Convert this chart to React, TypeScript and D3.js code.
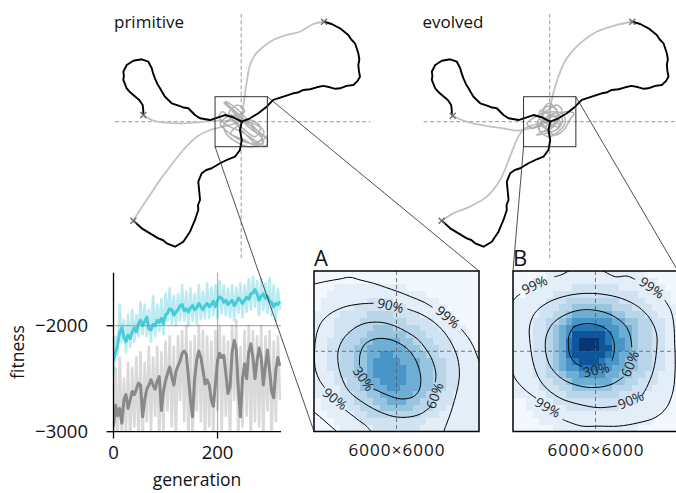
import React from 'react';
import * as d3 from 'd3';

const FONT = "'Open Sans', 'DejaVu Sans', sans-serif";

// ---------- fitness curves (sampled every 4th generation) ----------
const generations = d3.range(0, 321, 4);

const evolvedMean = [
  -2330, -2250, -2180, -2060, -2020, -2110, -2150, -2090, -2120, -2060,
  -2020, -2060, -1980, -1950, -2000, -1960, -1920, -2030, -2040, -1990,
  -2000, -1950, -1970, -1930, -1980, -1900, -1880, -1840, -1850, -1900,
  -1870, -1850, -1810, -1800, -1860, -1840, -1870, -1830, -1810, -1850,
  -1830, -1790, -1820, -1850, -1810, -1790, -1820, -1800, -1770, -1820,
  -1760, -1730, -1740, -1780, -1760, -1800, -1780, -1760, -1810, -1780,
  -1740, -1760, -1790, -1760, -1730, -1750, -1700, -1690, -1660, -1700,
  -1760, -1720, -1700, -1740, -1720, -1770, -1780, -1820, -1790, -1800,
  -1770,
];

const evolvedRaw = [
  -2450, -2100, -2280, -1800, -2150, -1950, -2250, -1900, -2200, -1850,
  -2150, -1900, -2100, -1780, -2080, -1800, -2100, -1850, -2150, -1720,
  -2100, -1800, -2050, -1750, -2080, -1700, -1950, -1650, -1980, -1720,
  -2000, -1700, -1950, -1620, -1950, -1680, -2000, -1650, -1950, -1700,
  -1980, -1620, -1940, -1680, -1930, -1600, -1930, -1640, -1900, -1620,
  -1930, -1580, -1880, -1620, -1900, -1650, -1920, -1620, -1950, -1640,
  -1880, -1600, -1920, -1620, -1870, -1560, -1850, -1540, -1820, -1580,
  -1900, -1560, -1850, -1600, -1880, -1550, -1900, -1620, -1950, -1650,
  -1850,
];

const primitiveMean = [
  -2950, -2750, -2850, -2780, -2920, -2700, -2650, -2780, -2700, -2620,
  -2650, -2600, -2540, -2560, -2860, -2700, -2600, -2560, -2510, -2560,
  -2600, -2520, -2480, -2800, -2620, -2520, -2450, -2390, -2480, -2560,
  -2430, -2380, -2330, -2260, -2240, -2270, -2480, -2700, -2860, -2500,
  -2320, -2240, -2300, -2420, -2550, -2510, -2560, -2700, -2760, -2550,
  -2330, -2260, -2300, -2280, -2450, -2640, -2580, -2250, -2140, -2220,
  -2600, -2860, -2500, -2360, -2500, -2250, -2170, -2300, -2500, -2330,
  -2210, -2300, -2560, -2380, -2230, -2420, -2620, -2680, -2420, -2300,
  -2380,
];

const primitiveRaw = [
  -3100, -2400, -3100, -2300, -3100, -2500, -3000, -2350, -3100, -2400,
  -2950, -2300, -3100, -2250, -3100, -2350, -2900, -2200, -3000, -2300,
  -2850, -2200, -3100, -2250, -3000, -2150, -2800, -2100, -2950, -2200,
  -3100, -2100, -2700, -2050, -2900, -2000, -3100, -2150, -3100, -2100,
  -2800, -2000, -2900, -2050, -3100, -2100, -2950, -2150, -3100, -2050,
  -2800, -2000, -3000, -2100, -2850, -2150, -3100, -2000, -2700, -1950,
  -3100, -2200, -2950, -2050, -2850, -2000, -3100, -2050, -2900, -2100,
  -2950, -2000, -3100, -2100, -2800, -2050, -3100, -2150, -2900, -2100,
  -2700,
];

const fitnessTicks = [-3000, -2000];
const generationTicks = [0, 200];

// ---------- trajectories (thousands of units, origin = start) ----------
type P = [number, number];

const outWest: P[] = [
  [0.06, 0], [-0.91, 0.53], [-1.86, 0.8], [-2.63, 0.53], [-3.58, 0.2], [-4.72, 0.41],
  [-5.3, 0.8], [-6.07, 1.61], [-6.6, 1.7], [-7.02, 1.88], [-7.97, 2.21], [-8.74, 3.0],
  [-9.0, 3.45], [-9.31, 4.01], [-9.6, 4.5], [-9.89, 5.21], [-10.1, 5.8], [-10.26, 6.41],
  [-10.65, 7.2], [-11.41, 7.49], [-12.37, 7.32], [-13.13, 6.81], [-13.52, 6.0],
  [-13.45, 5.5], [-13.52, 5.01], [-13.13, 4.01], [-12.8, 3.6], [-12.37, 3.21],
  [-11.69, 2.61], [-11.3, 2.0], [-11.23, 1.4], [-11.23, 0.8],
];
const outEast: P[] = [
  [0.06, 0], [1.01, 0.41], [1.96, 1.01], [2.92, 1.8], [3.68, 2.61], [4.83, 3.0],
  [5.97, 3.41], [6.5, 3.5], [7.12, 3.81], [7.9, 3.9], [8.66, 4.13], [9.4, 4.3],
  [10.18, 4.13], [10.8, 3.95], [11.33, 4.01], [12.1, 4.3], [12.86, 4.41], [13.35, 4.9],
  [13.62, 5.4], [13.5, 6.1], [13.43, 6.81], [13.55, 7.5], [13.43, 8.21], [13.05, 9.41],
  [12.6, 9.9], [12.28, 10.41], [11.33, 11.21], [10.38, 11.73], [9.5, 12.0],
];
const outSouth: P[] = [
  [0.06, 0], [-0.14, -1.0], [0.06, -2.2], [-0.14, -3.4], [-0.71, -4.2], [-1.48, -4.51],
  [-2.43, -4.99], [-3.38, -5.59], [-4.0, -5.8], [-4.53, -6.19], [-4.92, -7.2], [-4.81, -8.4],
  [-4.72, -9.4], [-4.95, -10.0], [-4.92, -10.6], [-5.3, -11.8], [-5.87, -13.21],
  [-6.64, -14.41], [-7.59, -15.01], [-8.54, -14.6], [-9.0, -14.2], [-9.51, -14.0],
  [-10.46, -13.4], [-11.41, -12.8], [-12.37, -11.88],
];

const primitiveReturns: P[][] = [
  [[-11.23, 0.8], [-10.08, 0.12], [-8.54, -0.12], [-6.64, -0.19], [-4.72, -0.04], [-3.2, 0.12], [-1.66, 0.12], [0.06, 0]],
  [[9.5, 12.0], [8.27, 11.73], [6.74, 10.8], [5.22, 10.41], [3.68, 9.81], [2.53, 9.0], [1.58, 8.01], [1.01, 6.81], [0.7, 5.21], [0.44, 3.41], [0.24, 1.8], [0.06, 0]],
  [[-12.37, -11.88], [-11.61, -10.6], [-10.46, -8.8], [-9.31, -7.0], [-8.17, -5.4], [-6.64, -3.4], [-5.1, -1.8], [-3.58, -1.0], [-2.05, -0.6], [0.06, 0]],
];
const evolvedReturns: P[][] = [
  [[-11.12, 0.72], [-9.52, 0], [-7.22, -0.52], [-5.32, -0.79], [-3.78, -1.08], [-2.26, -0.79], [-1.11, -0.4], [0, 0]],
  [[9.47, 12.0], [7.68, 11.61], [5.39, 10.8], [3.47, 9.41], [1.95, 7.61], [0.99, 5.4], [0.41, 3.41], [0.03, 1.4], [0, 0]],
  [[-12.39, -11.88], [-11.06, -11.0], [-9.14, -10.2], [-7.22, -9.0], [-5.7, -7.0], [-4.55, -4.2], [-3.6, -1.8], [-2.83, -0.79], [-1.11, -0.19], [0, 0]],
];

const primitiveWander: P[] = [
  [0, 0], [-1.2, 1.5], [-2.0, 2.3], [-1.5, 2.0], [0.2, 0.4], [1.5, -1.0], [2.6, -2.4], [2.0, -2.8],
  [0.5, -1.5], [-1.0, 0.2], [-2.2, 1.2], [-2.5, 0.5], [-1.5, -0.5], [0.0, -1.2], [1.5, -2.2],
  [2.8, -2.9], [3.0, -2.2], [1.8, -1.0], [0.5, 0.5], [-0.8, 1.8], [-1.8, 2.4], [-0.6, 1.0],
  [0.8, -0.6], [2.2, -1.6], [2.9, -1.8], [1.2, -2.6], [-0.5, -2.0], [-1.8, -1.0], [-2.4, -0.2],
  [-1.0, 0.8], [0.6, -0.2], [2.0, -1.2], [2.4, -2.6], [0.8, -3.0], [-0.6, -2.4], [-1.6, -1.6],
  [-2.0, -0.4], [-0.8, 0.6], [0.4, 1.2], [-0.4, 2.0], [-1.4, 1.0], [0.2, -0.8], [1.6, -1.8],
  [2.2, -0.6], [1.0, 0.2], [-0.2, -0.4], [-1.2, -1.4], [0.4, -2.2], [1.6, -2.8], [2.6, -1.2],
  [1.4, -0.2], [0, 0],
];
const evolvedWander: P[] = [
  [0, 0], [-0.8, 0.8], [-0.4, 1.8], [0.6, 1.6], [1.0, 0.4], [0.2, -0.8], [-1.0, -1.2],
  [-1.4, -0.2], [-0.6, 1.0], [0.4, 1.2], [1.4, 1.0], [1.8, 0], [1.0, -1.2], [-0.2, -1.8],
  [-1.2, -1.0], [-0.6, 0.2], [0.8, 0.6], [1.2, -0.4], [0.2, -1.2], [-0.8, -0.4], [-2.0, -0.8],
  [-2.6, -0.2], [-1.6, 0.6], [-0.2, 1.4], [0.8, 2.0], [1.4, 1.4], [0.6, 0.2], [-0.4, -0.6],
  [0.6, -1.6], [1.6, -1.0], [2.4, 0.4], [2.8, 1.0], [1.8, 1.2], [0.4, 0.6], [-1.0, 1.4],
  [-1.2, 0.4], [-0.2, -0.2], [1.0, -0.6], [0.4, 0.8], [-0.4, 0], [-0.9, 1.1], [-0.1, 2.2],
  [0.9, 1.2], [0.5, -0.3], [-0.5, -1.0], [-1.5, -1.6], [-0.4, -1.4], [0.9, -0.9], [1.5, 0.2],
  [0.7, 1.0], [-0.3, 0.6], [-1.1, -0.2], [-0.2, -0.9], [0.6, 0.1], [0, 0],
];

// ---------- end-position densities (6000 x 6000 window) ----------
const densityPrimitive = [
  '0000000000000000000000000',
  '0000000000000000000000000',
  '0001111111111100000000000',
  '0011111111111111100000000',
  '0111111122221111111000000',
  '0111112222222211111100000',
  '1111222233332222111110000',
  '1112222333333322221111000',
  '1112223334443333222111100',
  '1112233344444433322211100',
  '1122333445555443332221110',
  '1122334455555544333221110',
  '1122334455665554433222111',
  '1122334456666555443322111',
  '1122334456666655443322111',
  '1112334456666655443322111',
  '1112233455666655443322111',
  '1111233445566555443322111',
  '1111223344555554433221111',
  '0111223334455544332221111',
  '0111122333444443332211111',
  '0011112233333333222111111',
  '0001111222222222211111111',
  '0000111112222222111111111',
];
const densityEvolved = [
  '0000011111111111111100000',
  '0001111111111111111111000',
  '0011111112222222111111100',
  '0011112222222222222111110',
  '1111122233333333222211110',
  '1111222334444443332221111',
  '1111223345555554433322111',
  '1112233456666665544332211',
  '1112234567777766554332211',
  '1112234568888876554332211',
  '1112234578999876654332211',
  '1112234578999886654332211',
  '1112234578888876554332211',
  '1112234567888766544332211',
  '1112234566777665544332211',
  '1112233455666655443322111',
  '1111223345555554433222111',
  '1111222334444443332221111',
  '1111122233333333222211110',
  '0011112222222222222111110',
  '0011111122222222111111100',
  '0001111111111111111111000',
  '0000111111111111111110000',
  '0000001111111111111000000',
];

type Label = { text: string; x: number; y: number; angle: number };

const contoursPrimitive: P[][] = [
  // 99%
  [[-2974, 2515], [-2546, 2615], [-2056, 2702], [-1689, 2764], [-1322, 2664], [-832, 2540], [-404, 2390], [24, 2241], [514, 2042], [1004, 1830], [1310, 1643]],
  [[2350, 834], [2595, 523], [2778, 212], [2925, -162], [3050, -500]],
  [[-3050, -2250], [-2913, -2341], [-2424, -2776], [-2240, -2938], [-2150, -3050]],
  // 90%
  [[-2962, 274], [-2889, 710], [-2729, 1083], [-2424, 1394], [-1934, 1643], [-1322, 1768], [-832, 1793]],
  [[392, 1581], [881, 1394], [1371, 1083], [1738, 710], [2044, 212], [2228, -286], [2289, -847], [2228, -1345], [2105, -1843], [1958, -2341], [1799, -2776], [1701, -3050]],
  [[-2962, 274], [-2987, -224], [-2938, -722], [-2791, -1096], [-2607, -1370]],
  [[-1873, -2191], [-1444, -2527], [-1077, -2814], [-894, -3050]],
  // 60%
  [[1248, -2067], [881, -2341], [392, -2465], [-98, -2440], [-710, -2216], [-1322, -1843], [-1750, -1469], [-1995, -971], [-2118, -473], [-2118, 25], [-1934, 461], [-1567, 834], [-1138, 1046], [-588, 1083], [-98, 959], [392, 710], [759, 461], [1065, 87], [1310, -349], [1432, -847], [1408, -1158]],
  // 30%
  [[-832, -1407], [-282, -1656], [147, -1780], [575, -1718], [820, -1469], [881, -971], [759, -473], [514, -37], [147, 274], [-343, 461], [-771, 461], [-1138, 274], [-1322, -100], [-1346, -535]],
];
const labelsPrimitive: Label[] = [
  { text: '99%', x: 1860, y: 1270, angle: 40 },
  { text: '90%', x: -220, y: 1706, angle: 12 },
  { text: '90%', x: -2240, y: -1780, angle: 38 },
  { text: '60%', x: 1395, y: -1656, angle: -70 },
  { text: '30%', x: -1200, y: -1033, angle: 55 },
];

const contoursEvolved: P[][] = [
  // 99%
  [[-3100, 1700], [-2904, 2008], [-2736, 2134]],
  [[-1500, 2786], [-1260, 2849], [-720, 3100], [120, 3062], [720, 2786], [1140, 2811], [1440, 2686]],
  [[2520, 1908], [2736, 1531], [2844, 1029], [2880, 276], [2900, -500], [2820, -1481], [2580, -2108], [2160, -2485], [1560, -2673], [840, -2799], [120, -2799], [-480, -2799], [-900, -2673], [-1200, -2548]],
  [[-2160, -1757], [-2520, -1481], [-2820, -1167], [-2940, -979], [-3100, -600]],
  // 90%
  [[1680, -1669], [1860, -1355], [2100, -728], [2220, 25], [2220, 653], [1980, 1217], [1560, 1657], [960, 1970], [240, 2134], [-480, 2159], [-1200, 2033], [-1800, 1782], [-2220, 1406], [-2400, 904], [-2376, 276], [-2220, -602], [-1920, -1230], [-1320, -1732], [-600, -1983], [120, -2108], [780, -2046]],
  // 60%
  [[1320, 151], [1260, 590], [1080, 966], [600, 1343], [0, 1531], [-600, 1531], [-1140, 1343], [-1560, 1029], [-1800, 527], [-1800, -100], [-1620, -602], [-1200, -1042], [-600, -1293], [0, -1355], [600, -1230], [1020, -954]],
  // 30%
  [[600, -351], [684, 25], [660, 402], [480, 753], [120, 966], [-360, 1029], [-780, 904], [-960, 590], [-984, 213], [-924, -163], [-720, -452], [-480, -577]],
];
const labelsEvolved: Label[] = [
  { text: '99%', x: -2220, y: 2472, angle: -25 },
  { text: '99%', x: 2040, y: 2372, angle: 35 },
  { text: '99%', x: -1740, y: -2108, angle: 30 },
  { text: '90%', x: 1284, y: -1832, angle: -22 },
  { text: '60%', x: 1260, y: -477, angle: -68 },
  { text: '30%', x: 24, y: -703, angle: -12 },
];

// ---------- layout ----------
const TRAJ_X = [-14.45, 14.8];
const TRAJ_Y = [-16.4, 13.2];
const BOX = 3;
// colour stop per density level (Blues colormap)
const LEVEL_T = [0.02, 0.1, 0.19, 0.29, 0.39, 0.5, 0.61, 0.73, 0.86, 0.98];

function trajScales(cx: number) {
  const x = d3.scaleLinear().domain([-15, 15]).range([cx - 15 * 8.72, cx + 15 * 8.72]);
  const y = d3.scaleLinear().domain([-15, 15]).range([121.7 + 15 * 8.33, 121.7 - 15 * 8.33]);
  return { x, y };
}

function Trajectory({ cx, title, titleX, returns, wander }: any) {
  const { x, y } = trajScales(cx);
  const smooth = d3.line<P>().x(d => x(d[0])).y(d => y(d[1])).curve(d3.curveCatmullRom.alpha(0.5));
  const straight = d3.line<P>().x(d => x(d[0])).y(d => y(d[1]));
  return (
    <g>
      <line x1={x(0)} x2={x(0)} y1={y(TRAJ_Y[0])} y2={y(TRAJ_Y[1])} stroke="#999" strokeWidth={1} strokeDasharray="4,2.5" />
      <line x1={x(TRAJ_X[0])} x2={x(TRAJ_X[1])} y1={y(0)} y2={y(0)} stroke="#999" strokeWidth={1} strokeDasharray="4,2.5" />
      {returns.map((r: P[], i: number) => (
        <path key={i} d={smooth(r) || ''} fill="none" stroke="#c2c2c2" strokeWidth={1.8} />
      ))}
      <path d={smooth(wander) || ''} fill="none" stroke="#9a9a9a" strokeOpacity={0.75} strokeWidth={1.5} />
      {[outWest, outEast, outSouth].map((p, i) => (
        <path key={i} d={straight(p) || ''} fill="none" stroke="#000" strokeWidth={1.9} strokeLinejoin="round" />
      ))}
      {returns.map((r: P[], i: number) => (
        <path key={i} transform={`translate(${x(r[0][0])},${y(r[0][1])})`} d="M-3,-3L3,3M-3,3L3,-3" stroke="#6d6d6d" strokeWidth={1.4} />
      ))}
      <rect x={x(-BOX)} y={y(BOX)} width={x(BOX) - x(-BOX)} height={y(-BOX) - y(BOX)} fill="none" stroke="#333" strokeWidth={1} />
      <text x={titleX} y={28} fontSize={17} fontFamily={FONT} fill="#111">{title}</text>
    </g>
  );
}

function Density({ id, grid, contours, labels, x0, x1, y0, y1, letter }: any) {
  const xs = d3.scaleLinear().domain([-3000, 3000]).range([x0, x1]);
  const ys = d3.scaleLinear().domain([3000, -3000]).range([y0, y1]);
  const cols = d3.scaleBand<number>().domain(d3.range(grid[0].length)).range([x0, x1]);
  const rows = d3.scaleBand<number>().domain(d3.range(grid.length)).range([y0, y1]);
  const color = (v: number) => d3.interpolateBlues(LEVEL_T[v]);
  const line = d3.line<P>().x(d => xs(d[0])).y(d => ys(d[1])).curve(d3.curveCatmullRom.alpha(0.5));
  return (
    <g>
      <defs>
        <clipPath id={id}>
          <rect x={x0} y={y0} width={x1 - x0} height={y1 - y0} />
        </clipPath>
      </defs>
      <g clipPath={`url(#${id})`}>
        {grid.map((row: string, r: number) =>
          row.split('').map((ch, c) => (
            <rect key={`${r}-${c}`} x={cols(c)} y={rows(r)} width={cols.bandwidth() + 0.4} height={rows.bandwidth() + 0.4}
              fill={color(+ch)} shapeRendering="crispEdges" />
          ))
        )}
        <line x1={xs(0)} x2={xs(0)} y1={y0} y2={y1} stroke="#556" strokeOpacity={0.8} strokeWidth={1} strokeDasharray="4,3" />
        <line x1={x0} x2={x1} y1={ys(0)} y2={ys(0)} stroke="#556" strokeOpacity={0.8} strokeWidth={1} strokeDasharray="4,3" />
        {contours.map((c: P[], i: number) => (
          <path key={i} d={line(c) || ''} fill="none" stroke="#000" strokeWidth={1} />
        ))}
        {labels.map((l: Label, i: number) => (
          <text key={i} transform={`translate(${xs(l.x)},${ys(l.y)}) rotate(${l.angle})`} textAnchor="middle" dy="0.35em"
            fontSize={13.5} fontFamily={FONT} fill="#222">{l.text}</text>
        ))}
      </g>
      <rect x={x0} y={y0} width={x1 - x0} height={y1 - y0} fill="none" stroke="#000" strokeWidth={1.5} />
      <text x={x0} y={y0 - 5} fontSize={22} fontFamily={FONT} fill="#111">{letter}</text>
      <text x={(x0 + x1) / 2 - 48} y={456} fontSize={17} fontFamily={FONT} fill="#111"
        textLength={96} lengthAdjust="spacing">6000×6000</text>
    </g>
  );
}

function Fitness() {
  const x = d3.scaleLinear().domain([0, 322]).range([113.5, 281]);
  const y = d3.scaleLinear().domain([-3000, -1500]).range([431.7, 272.7]);
  const line = d3.line<number>().x((_, i) => x(generations[i])).y(d => y(d));
  return (
    <g>
      <defs>
        <clipPath id="fitclip">
          <rect x={113.5} y={272.7} width={281 - 113.5} height={431.7 - 272.7} />
        </clipPath>
      </defs>
      <line x1={113.5} x2={281} y1={y(-2000)} y2={y(-2000)} stroke="#b0b0b0" strokeWidth={1.2} />
      <line x1={x(200)} x2={x(200)} y1={272.7} y2={431.7} stroke="#b0b0b0" strokeWidth={1.2} />
      <g clipPath="url(#fitclip)" fill="none" strokeLinejoin="round">
        <path d={line(primitiveRaw) || ''} stroke="#808080" strokeOpacity={0.3} strokeWidth={2.6} />
        <path d={line(primitiveMean) || ''} stroke="#7f7f7f" strokeOpacity={0.9} strokeWidth={3} />
        <path d={line(evolvedRaw) || ''} stroke="#17becf" strokeOpacity={0.3} strokeWidth={2.6} />
        <path d={line(evolvedMean) || ''} stroke="#17becf" strokeOpacity={0.7} strokeWidth={3} />
      </g>
      <line x1={113.5} x2={113.5} y1={272.7} y2={431.7} stroke="#000" strokeWidth={1.3} />
      <line x1={113.5} x2={281} y1={431.7} y2={431.7} stroke="#000" strokeWidth={1.3} />
      {fitnessTicks.map(t => (
        <g key={t}>
          <line x1={106.5} x2={113.5} y1={y(t)} y2={y(t)} stroke="#000" strokeWidth={1.3} />
          <text x={88} y={y(t)} dy="0.36em" textAnchor="end" fontSize={18.5} fontFamily={FONT} fill="#111">
            {'\u2212' + Math.abs(t)}
          </text>
        </g>
      ))}
      {generationTicks.map(t => (
        <g key={t}>
          <line x1={x(t)} x2={x(t)} y1={431.7} y2={438.5} stroke="#000" strokeWidth={1.3} />
          <text x={x(t)} y={459} textAnchor="middle" fontSize={18.5} fontFamily={FONT} fill="#111">{t}</text>
        </g>
      ))}
      <text x={197} y={486} textAnchor="middle" fontSize={17.5} fontFamily={FONT} fill="#111">generation</text>
      <text transform="translate(24,352) rotate(-90)" textAnchor="middle" fontSize={17.5} fontFamily={FONT} fill="#111">fitness</text>
    </g>
  );
}

export default function App() {
  const prim = trajScales(241.2);
  const evo = trajScales(549.7);
  const A = { x0: 314, x1: 479, y0: 271, y1: 431.5 };
  const B = { x0: 513, x1: 678, y0: 271, y1: 431.5 };
  const connectors = [
    [prim.x(BOX), prim.y(BOX), A.x1, A.y0],
    [prim.x(-BOX), prim.y(-BOX), A.x0, A.y1],
    [evo.x(-BOX), evo.y(-BOX), B.x0, B.y0],
    [evo.x(BOX), evo.y(BOX), B.x1, B.y0],
  ];
  return (
    <svg width={676} height={493} style={{ position: 'absolute', left: 0, top: 0, background: '#fff' }}>
      <Trajectory cx={241.2} title="primitive" titleX={114} returns={primitiveReturns} wander={primitiveWander} />
      <Trajectory cx={549.7} title="evolved" titleX={422.5} returns={evolvedReturns} wander={evolvedWander} />
      <Fitness />
      <Density id="clipA" grid={densityPrimitive} contours={contoursPrimitive} labels={labelsPrimitive} letter="A" {...A} />
      <Density id="clipB" grid={densityEvolved} contours={contoursEvolved} labels={labelsEvolved} letter="B" {...B} />
      {connectors.map((c, i) => (
        <line key={i} x1={c[0]} y1={c[1]} x2={c[2]} y2={c[3]} stroke="#222" strokeWidth={0.8} />
      ))}
    </svg>
  );
}
